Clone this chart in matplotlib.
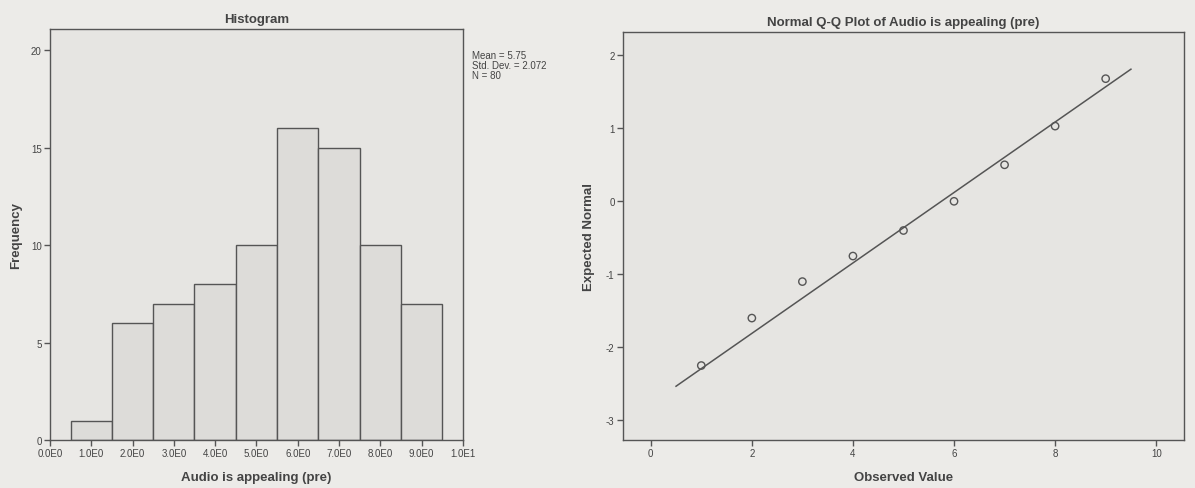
import numpy as np
import matplotlib.pyplot as plt

# Histogram data (SPSS output, 80 responses)
scores = [1, 2, 3, 4, 5, 6, 7, 8, 9]
counts = [1, 6, 7, 8, 10, 16, 15, 10, 7]
hist_xticks = [0, 1, 2, 3, 4, 5, 6, 7, 8, 9, 10]
hist_xlabels = ['0.0E0', '1.0E0', '2.0E0', '3.0E0', '4.0E0', '5.0E0',
                '6.0E0', '7.0E0', '8.0E0', '9.0E0', '1.0E1']
hist_yticks = [0, 5, 10, 15, 20]

# Q-Q plot data
observed = [1, 2, 3, 4, 5, 6, 7, 8, 9]
expected = [-2.25, -1.6, -1.1, -0.75, -0.4, 0.0, 0.5, 1.03, 1.68]
mean_val = 5.75
sd_val = 2.072
n_val = 80
qq_xticks = [0, 2, 4, 6, 8, 10]
qq_yticks = [-3, -2, -1, 0, 1, 2]

plt.rcParams['font.family'] = ['Liberation Sans', 'DejaVu Sans']
plt.rcParams['axes.unicode_minus'] = False

bg = '#ecebe8'
ax_bg = '#e6e5e2'
edge = '#555555'
text_c = '#444444'

fig = plt.figure(figsize=(11.95, 4.89), dpi=100, facecolor=bg)

### Histogram
ax1 = fig.add_axes([0.0418, 0.0982, 0.3456, 0.8405], facecolor=ax_bg)
ax1.bar(scores, counts, width=1.0, color='#dddcd9', edgecolor=edge, linewidth=1.0)
ax1.set_xlim(0, 10)
ax1.set_ylim(0, 21.1)
ax1.set_xticks(hist_xticks)
ax1.set_xticklabels(hist_xlabels)
ax1.set_yticks(hist_yticks)
ax1.set_title('Histogram', fontsize=9.5, fontweight='bold', color=text_c, pad=5)
ax1.set_xlabel('Audio is appealing (pre)', fontsize=9.5, fontweight='bold',
               color=text_c, labelpad=9)
ax1.set_ylabel('Frequency', fontsize=9.5, fontweight='bold', color=text_c, labelpad=6)
ax1.text(1.022, 0.95, f'Mean = {mean_val}\nStd. Dev. = {sd_val}\nN = {n_val}',
         transform=ax1.transAxes, fontsize=7, color=text_c, va='top', ha='left',
         linespacing=1.0)

### Normal Q-Q plot
ax2 = fig.add_axes([0.5213, 0.0982, 0.4695, 0.8344], facecolor=ax_bg)
line_x = np.array([0.5, 9.5])
ax2.plot(line_x, (line_x - mean_val) / sd_val, color=edge, linewidth=1.1)
ax2.scatter(observed, expected, s=28, facecolors='none', edgecolors=edge, linewidths=1.0,
            zorder=3)
ax2.set_xlim(-0.55, 10.55)
ax2.set_ylim(-3.27, 2.32)
ax2.set_xticks(qq_xticks)
ax2.set_yticks(qq_yticks)
ax2.set_title('Normal Q-Q Plot of Audio is appealing (pre)', fontsize=9.5,
              fontweight='bold', color=text_c, pad=5)
ax2.set_xlabel('Observed Value', fontsize=9.5, fontweight='bold', color=text_c, labelpad=9)
ax2.set_ylabel('Expected Normal', fontsize=9.5, fontweight='bold', color=text_c, labelpad=8)

for ax in (ax1, ax2):
    for side in ('top', 'right', 'left', 'bottom'):
        ax.spines[side].set_color(edge)
        ax.spines[side].set_linewidth(1.0)
    ax.tick_params(direction='out', length=4, width=1, color=edge,
                   labelsize=7, labelcolor=text_c, pad=2)

fig.savefig('out.png', dpi=100, facecolor=bg)
